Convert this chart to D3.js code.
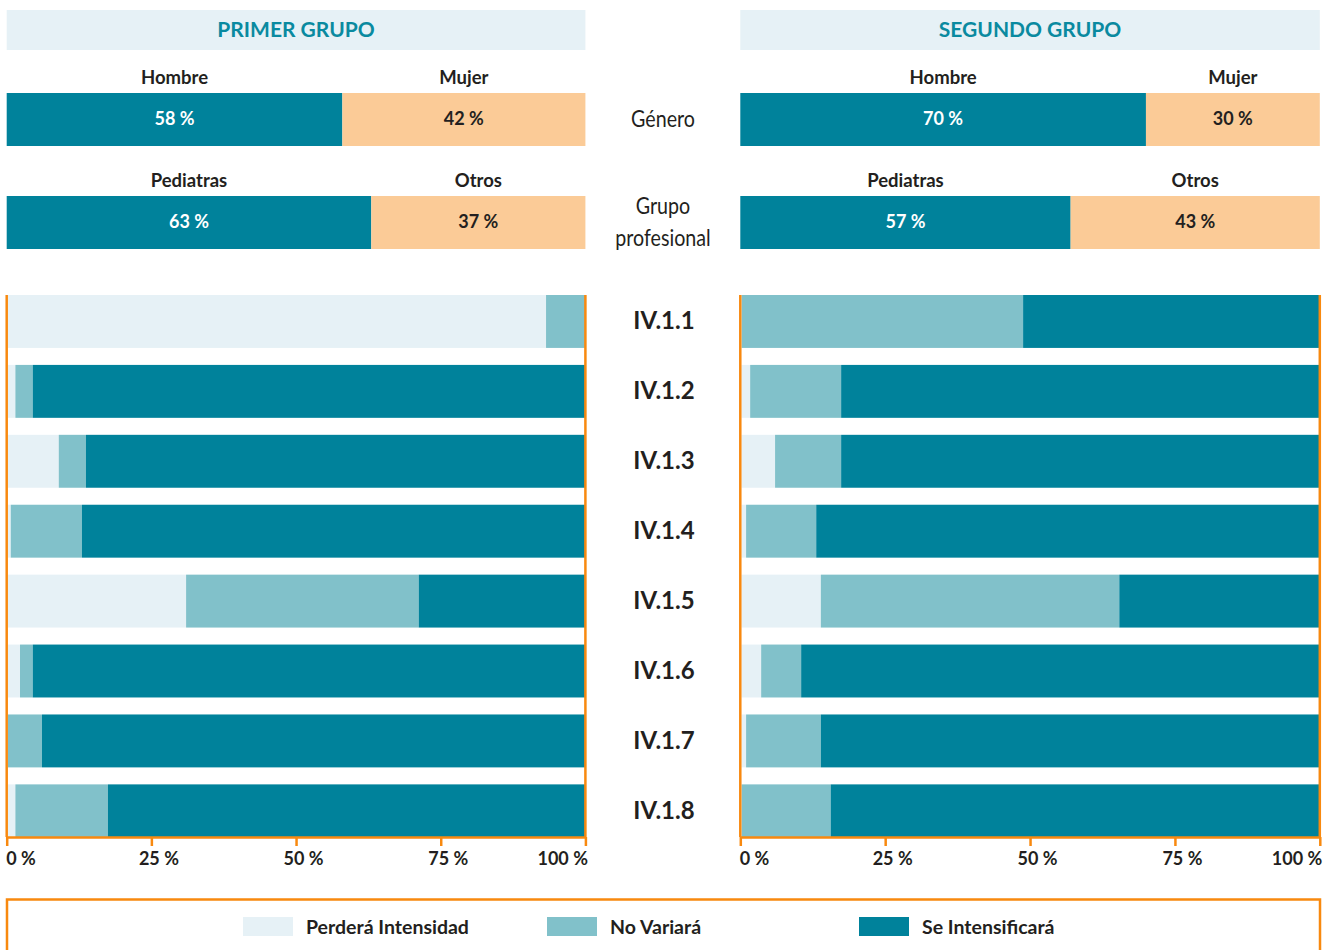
<!DOCTYPE html>
<html lang="es">
<head>
<meta charset="utf-8">
<script src="https://cdn.jsdelivr.net/npm/d3@7/dist/d3.min.js"></script>
<style>
  html, body { margin: 0; padding: 0; background: #ffffff; }
  svg { display: block; }
  text { font-family: Lato, "Open Sans", "DejaVu Sans", sans-serif; }
</style>
</head>
<body>
<svg id="chart" width="1326" height="950"></svg>
<script>
// ---- Data -------------------------------------------------------------
const groupTitles = ["PRIMER GRUPO", "SEGUNDO GRUPO"];
const items = ["IV.1.1", "IV.1.2", "IV.1.3", "IV.1.4", "IV.1.5", "IV.1.6", "IV.1.7", "IV.1.8"];
const responseKeys = ["Perderá Intensidad", "No Variará", "Se Intensificará"];

const primerPerdera       = [93.2, 1.5, 9.0, 0.7, 31.0, 2.3, 0.0, 1.5];
const primerNoVariara     = [6.8, 3.0, 4.7, 12.3, 40.2, 2.2, 6.1, 16.0];
const primerIntensificara = [0.0, 95.5, 86.3, 87.0, 28.8, 95.5, 93.9, 82.5];

const segundoPerdera       = [0.0, 1.7, 6.0, 1.0, 13.9, 3.6, 1.0, 0.0];
const segundoNoVariara     = [48.8, 15.7, 11.4, 12.1, 51.5, 6.9, 12.9, 15.6];
const segundoIntensificara = [51.2, 82.6, 82.6, 86.9, 34.6, 89.5, 86.1, 84.4];

const generoLabels = ["Hombre", "Mujer"];
const primerGenero = [58, 42];
const segundoGenero = [70, 30];

const profesionLabels = ["Pediatras", "Otros"];
const primerProfesion = [63, 37];
const segundoProfesion = [57, 43];

const rowTitles = [["Género"], ["Grupo", "profesional"]];
const tickValues = [0, 25, 50, 75, 100];

// ---- Style ------------------------------------------------------------
const colors = {
  dark: "#00829b",
  mid: "#81c1ca",
  light: "#e6f1f6",
  peach: "#fbcb97",
  orange: "#f8890f",
  ink: "#231f20",
  title: "#0a8aa0"
};
const responseColors = [colors.light, colors.mid, colors.dark];

const svg = d3.select("#chart");

// Build the per-group tables from the arrays above
const panels = [
  {
    title: groupTitles[0],
    range: [6.7, 585.4],
    genero: primerGenero,
    profesion: primerProfesion,
    rows: items.map((item, i) => ({
      item,
      [responseKeys[0]]: primerPerdera[i],
      [responseKeys[1]]: primerNoVariara[i],
      [responseKeys[2]]: primerIntensificara[i]
    }))
  },
  {
    title: groupTitles[1],
    range: [740.3, 1319.8],
    genero: segundoGenero,
    profesion: segundoProfesion,
    rows: items.map((item, i) => ({
      item,
      [responseKeys[0]]: segundoPerdera[i],
      [responseKeys[1]]: segundoNoVariara[i],
      [responseKeys[2]]: segundoIntensificara[i]
    }))
  }
];

const y = d3.scaleBand()
  .domain(items)
  .range([295, 837.3])
  .paddingInner(0.243)
  .paddingOuter(0);

const stack = d3.stack().keys(responseKeys);
const axisY = 837;
const centerX = 663;

panels.forEach(panel => {
  const x = d3.scaleLinear().domain([0, 100]).range(panel.range);
  const g = svg.append("g");

  // Group header band
  g.append("rect")
    .attr("x", panel.range[0])
    .attr("y", 10)
    .attr("width", panel.range[1] - panel.range[0])
    .attr("height", 40)
    .attr("fill", colors.light);
  g.append("text")
    .attr("x", (panel.range[0] + panel.range[1]) / 2)
    .attr("y", 37)
    .attr("text-anchor", "middle")
    .attr("font-size", 21)
    .attr("font-weight", 700)
    .attr("fill", colors.title)
    .text(panel.title);

  // Two-part profile bars (gender, professional group)
  const profiles = [
    { labels: generoLabels, values: panel.genero, top: 93 },
    { labels: profesionLabels, values: panel.profesion, top: 196 }
  ];
  profiles.forEach(p => {
    const segs = [];
    let acc = 0;
    p.values.forEach((v, i) => { segs.push({ label: p.labels[i], v, x0: acc, x1: acc + v, i }); acc += v; });
    const pg = g.append("g");
    pg.selectAll("rect").data(segs).join("rect")
      .attr("x", d => x(d.x0))
      .attr("y", p.top)
      .attr("width", d => x(d.x1) - x(d.x0))
      .attr("height", 53)
      .attr("fill", d => d.i === 0 ? colors.dark : colors.peach);
    pg.selectAll("text.val").data(segs).join("text")
      .attr("class", "val")
      .attr("x", d => (x(d.x0) + x(d.x1)) / 2)
      .attr("y", p.top + 32)
      .attr("text-anchor", "middle")
      .attr("font-size", 18)
      .attr("font-weight", 700)
      .attr("fill", d => d.i === 0 ? "#ffffff" : colors.ink)
      .text(d => d.v + " %");
    pg.selectAll("text.cat").data(segs).join("text")
      .attr("class", "cat")
      .attr("x", d => (x(d.x0) + x(d.x1)) / 2)
      .attr("y", p.top - 9)
      .attr("text-anchor", "middle")
      .attr("font-size", 18.5)
      .attr("font-weight", 700)
      .attr("fill", colors.ink)
      .text(d => d.label);
  });

  // Stacked response bars
  const series = stack(panel.rows);
  g.append("g").selectAll("g").data(series).join("g")
    .attr("fill", (d, i) => responseColors[i])
    .selectAll("rect").data(d => d).join("rect")
      .attr("x", d => x(d[0]) + (d[0] === 0 ? 1.3 : 0))
      .attr("y", d => y(d.data.item))
      .attr("width", d => Math.max(0, x(d[1]) - x(d[0]) - (d[0] === 0 ? 1.3 : 0)))
      .attr("height", y.bandwidth());

  // Orange frame sides
  [0, 100].forEach(v => {
    g.append("line")
      .attr("x1", x(v)).attr("x2", x(v))
      .attr("y1", 295).attr("y2", axisY)
      .attr("stroke", colors.orange)
      .attr("stroke-width", 2.5);
  });

  // Bottom percentage axis
  const axis = d3.axisBottom(x)
    .tickValues(tickValues)
    .tickSize(9)
    .tickSizeOuter(0)
    .tickFormat(d => d + " %");
  const ag = g.append("g")
    .attr("transform", `translate(0,${axisY})`)
    .call(axis);
  ag.select(".domain").attr("stroke", colors.orange).attr("stroke-width", 2.5);
  ag.selectAll(".tick line").attr("stroke", colors.orange).attr("stroke-width", 2.5);
  ag.selectAll(".tick text")
    .attr("y", 15)
    .attr("font-family", "Lato, 'DejaVu Sans', sans-serif")
    .attr("font-size", 18)
    .attr("font-weight", 700)
    .attr("fill", colors.ink)
    .attr("text-anchor", d => d === 0 ? "start" : d === 100 ? "end" : "middle")
    .attr("dx", d => d === 0 ? -1 : d === 100 ? 2 : 7);
});

// Centre column: row titles (condensed) and item codes
const rowTitleY = [[127], [214, 246]];
rowTitles.forEach((lines, r) => {
  lines.forEach((line, k) => {
    svg.append("text")
      .attr("transform", `translate(${centerX},${rowTitleY[r][k]}) scale(0.82,1)`)
      .attr("text-anchor", "middle")
      .attr("font-size", 24)
      .attr("fill", colors.ink)
      .text(line);
  });
});

svg.append("g").selectAll("text").data(items).join("text")
  .attr("x", centerX + 1)
  .attr("y", d => y(d) + y.bandwidth() / 2 + 8)
  .attr("text-anchor", "middle")
  .attr("font-size", 24)
  .attr("font-weight", 700)
  .attr("fill", colors.ink)
  .text(d => d);

// Legend box
svg.append("rect")
  .attr("x", 7)
  .attr("y", 899.5)
  .attr("width", 1313)
  .attr("height", 70)
  .attr("fill", "none")
  .attr("stroke", colors.orange)
  .attr("stroke-width", 2.5);

const legendX = [243, 547, 859];
const lg = svg.append("g").selectAll("g").data(responseKeys).join("g")
  .attr("transform", (d, i) => `translate(${legendX[i]},917)`);
lg.append("rect")
  .attr("width", 50)
  .attr("height", 19)
  .attr("fill", (d, i) => responseColors[i]);
lg.append("text")
  .attr("x", 63)
  .attr("y", 16.5)
  .attr("font-size", 19.5)
  .attr("font-weight", 700)
  .attr("fill", colors.ink)
  .text(d => d);
</script>
</body>
</html>
